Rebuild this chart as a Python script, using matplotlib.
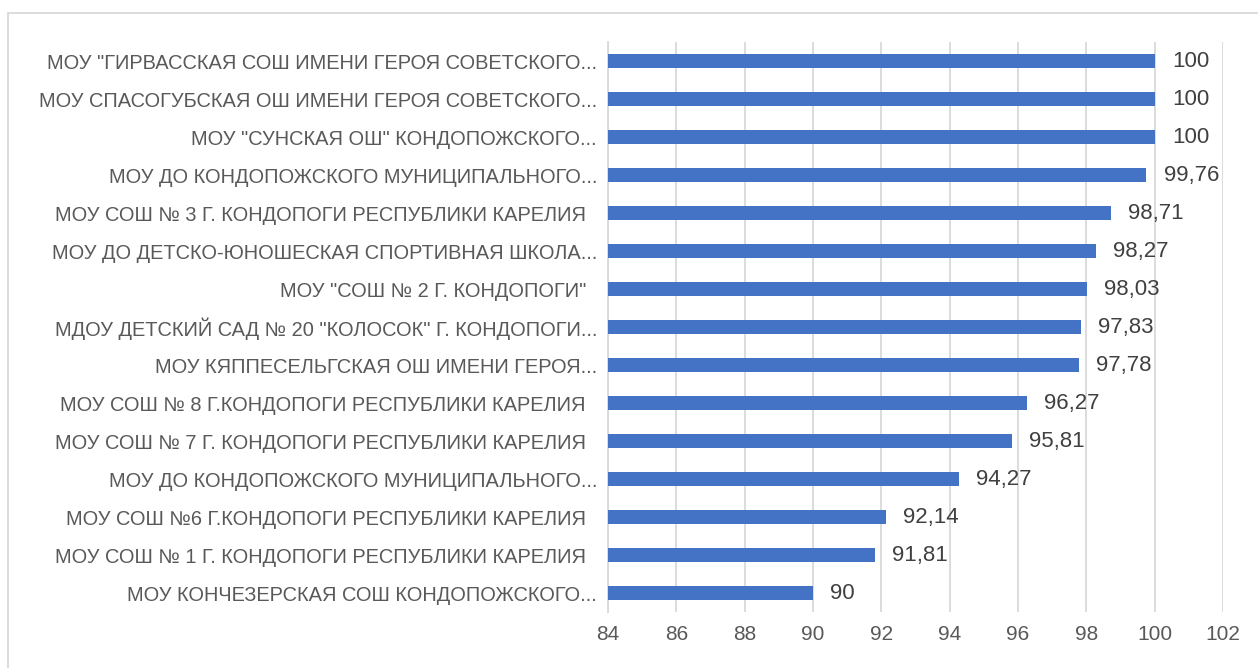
import matplotlib.pyplot as plt
from matplotlib.patches import Rectangle

plt.rcParams['font.family'] = ['Liberation Sans Narrow', 'Liberation Sans', 'DejaVu Sans']

# школы сверху вниз, как на исходной диаграмме
schools = [
    'МОУ "ГИРВАССКАЯ СОШ ИМЕНИ ГЕРОЯ СОВЕТСКОГО...',
    'МОУ СПАСОГУБСКАЯ ОШ ИМЕНИ ГЕРОЯ СОВЕТСКОГО...',
    'МОУ "СУНСКАЯ ОШ" КОНДОПОЖСКОГО...',
    'МОУ ДО КОНДОПОЖСКОГО МУНИЦИПАЛЬНОГО...',
    'МОУ СОШ № 3 Г. КОНДОПОГИ РЕСПУБЛИКИ КАРЕЛИЯ  ',
    'МОУ ДО ДЕТСКО-ЮНОШЕСКАЯ СПОРТИВНАЯ ШКОЛА...',
    'МОУ "СОШ № 2 Г. КОНДОПОГИ"  ',
    'МДОУ ДЕТСКИЙ САД № 20 "КОЛОСОК" Г. КОНДОПОГИ...',
    'МОУ КЯППЕСЕЛЬГСКАЯ ОШ ИМЕНИ ГЕРОЯ...',
    'МОУ СОШ № 8 Г.КОНДОПОГИ РЕСПУБЛИКИ КАРЕЛИЯ  ',
    'МОУ СОШ № 7 Г. КОНДОПОГИ РЕСПУБЛИКИ КАРЕЛИЯ  ',
    'МОУ ДО КОНДОПОЖСКОГО МУНИЦИПАЛЬНОГО...',
    'МОУ СОШ №6 Г.КОНДОПОГИ РЕСПУБЛИКИ КАРЕЛИЯ  ',
    'МОУ СОШ № 1 Г. КОНДОПОГИ РЕСПУБЛИКИ КАРЕЛИЯ  ',
    'МОУ КОНЧЕЗЕРСКАЯ СОШ КОНДОПОЖСКОГО...',
]
values = [100, 100, 100, 99.76, 98.71, 98.27, 98.03, 97.83, 97.78,
          96.27, 95.81, 94.27, 92.14, 91.81, 90]
x_ticks = [84, 86, 88, 90, 92, 94, 96, 98, 100, 102]

text_color = '#595959'
grid_color = '#d9d9d9'

fig = plt.figure(figsize=(12.58, 6.68), dpi=100)
ax = fig.add_axes([0.4833, 0.0838, 0.4889, 0.8532])

y = list(range(len(schools)))
ax.barh(y, values, height=0.37, left=0, color='#4472C4', zorder=3)

for yi, v in zip(y, values):
    lbl = f'{v:g}'.replace('.', ',')
    ax.text(v + 0.5, yi, lbl, va='center', ha='left', fontsize=16, color='#404040')

ax.set_xlim(84, 102)
ax.set_ylim(len(schools) - 0.5, -0.5)
ax.set_xticks(x_ticks)
ax.set_xticklabels([str(t) for t in x_ticks], fontsize=15, color=text_color)
ax.set_yticks(y)
ax.set_yticklabels(schools, fontsize=14.4, color=text_color)
ax.tick_params(axis='both', length=0)
ax.tick_params(axis='y', pad=8)
ax.tick_params(axis='x', pad=9)

ax.grid(axis='x', color=grid_color, linewidth=1.3, zorder=0)
for s in ['top', 'right', 'bottom']:
    ax.spines[s].set_visible(False)
ax.spines['left'].set_color(grid_color)
ax.spines['left'].set_linewidth(1.3)

# рамка диаграммы
fig.patches.append(Rectangle((8 / 1258, -0.1), 1.2, 1 - 13 / 668 + 0.1,
                             transform=fig.transFigure, fill=False,
                             edgecolor=grid_color, linewidth=1.3))

fig.savefig('out.png', dpi=100)
